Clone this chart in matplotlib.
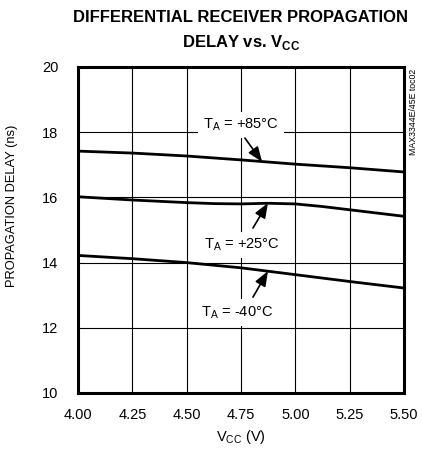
import matplotlib
matplotlib.use("Agg")
import matplotlib.pyplot as plt
from matplotlib import font_manager as fm

names = {f.name for f in fm.fontManager.ttflist}
narrow = "Liberation Sans Narrow" if "Liberation Sans Narrow" in names else "Liberation Sans"
plt.rcParams['font.family'] = [narrow, 'DejaVu Sans']

vcc_85 = [4.00, 4.25, 4.50, 4.75, 5.00, 5.25, 5.50]
delay_85 = [17.42, 17.36, 17.27, 17.15, 17.02, 16.91, 16.78]
vcc_25 = [4.00, 4.25, 4.50, 4.625, 4.75, 4.875, 5.00, 5.125, 5.25, 5.375, 5.50]
delay_25 = [16.02, 15.92, 15.84, 15.81, 15.80, 15.82, 15.80, 15.72, 15.62, 15.52, 15.42]
vcc_m40 = [4.00, 4.25, 4.50, 4.75, 5.00, 5.25, 5.50]
delay_m40 = [14.22, 14.12, 14.00, 13.84, 13.63, 13.42, 13.22]

xticks = [4.00, 4.25, 4.50, 4.75, 5.00, 5.25, 5.50]
yticks = [10, 12, 14, 16, 18, 20]

fig = plt.figure(figsize=(4.22, 4.53), dpi=100)
ax = fig.add_axes([78/422, 1-393/453, (404-78)/422, (393-67)/453])

for x, y in ((vcc_85, delay_85), (vcc_25, delay_25), (vcc_m40, delay_m40)):
    ax.plot(x, y, color='black', lw=2.0, solid_capstyle='butt', solid_joinstyle='round', zorder=3)

ax.set_xlim(4.0, 5.5)
ax.set_ylim(10, 20)
ax.set_xticks(xticks)
ax.set_xticklabels([f"{v:.2f}" for v in xticks])
ax.set_yticks(yticks)
ax.set_yticklabels([str(v) for v in yticks])
ax.tick_params(axis='x', length=0, labelsize=10.5, pad=11)
ax.tick_params(axis='y', length=0, labelsize=10.5, pad=14)
ax.grid(True, color='black', lw=0.8)
ax.set_axisbelow(True)
for s in ax.spines.values():
    s.set_linewidth(2.2)

ax.set_xlabel(r"V$_{\mathregular{CC}}$ (V)", fontsize=10.5)
ax.xaxis.set_label_coords(0.5, -(437-393)/326)
ax.xaxis.label.set_va('center')
ax.set_ylabel("PROPAGATION DELAY (ns)", fontsize=9.3)
ax.yaxis.set_label_coords(-(78-18)/326, (393-206)/326)

fig.text(241/422, 1-17/453, "DIFFERENTIAL RECEIVER PROPAGATION", ha='center', va='center',
         fontsize=12, fontweight='bold')
fig.text(241/422, 1-43/453, r"DELAY vs. V$_{\mathregular{CC}}$", ha='center', va='center',
         fontsize=12, fontweight='bold')

fig.text(413/422, 1-112/453, "MAX3344E/45E toc02", rotation=90, ha='center', va='center', fontsize=6.3)

bbox = dict(boxstyle='square,pad=0.35', fc='white', ec='none')
arrow = dict(arrowstyle='-|>,head_length=0.9,head_width=0.35', color='black', lw=1.2, shrinkA=0, shrinkB=0)

ax.text(4.75, 18.22, r"T$_{\mathregular{A}}$ = +85°C", ha='center', va='center', fontsize=10.5, bbox=bbox, zorder=4)
ax.annotate("", xy=(4.847, 17.09), xytext=(4.768, 17.82), arrowprops=arrow, zorder=5)

ax.text(4.755, 14.54, r"T$_{\mathregular{A}}$ = +25°C", ha='center', va='center', fontsize=10.5, bbox=bbox, zorder=4)
ax.annotate("", xy=(4.874, 15.83), xytext=(4.805, 15.06), arrowprops=arrow, zorder=5)

ax.text(4.73, 12.48, r"T$_{\mathregular{A}}$ = -40°C", ha='center', va='center', fontsize=10.5, bbox=bbox, zorder=4)
ax.annotate("", xy=(4.874, 13.74), xytext=(4.805, 12.94), arrowprops=arrow, zorder=5)

fig.savefig("out.png", dpi=100)
